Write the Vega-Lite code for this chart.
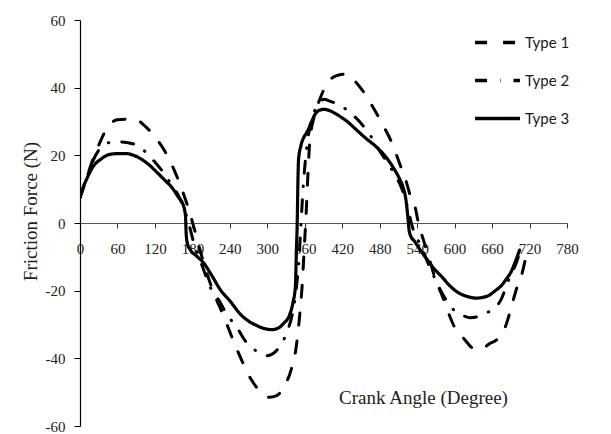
{
  "$schema": "https://vega.github.io/schema/vega-lite/v6.json",
  "width": 487,
  "height": 406,
  "autosize": {"type": "none"},
  "padding": {"left": 80, "top": 20, "right": 44, "bottom": 8},
  "background": "white",
  "config": {"view": {"stroke": null}},
  "datasets": {
    "t1": [
      [0,7.5],[10,13],[20,18.5],[30,23],[45,28.5],[60,30.5],[75,30.7],[90,30.5],[105,28.5],[120,25.5],[135,21.5],[150,16],[165,9],[175,3.5],[182,-1],[190,-6.5],[200,-13],[215,-21],[230,-27.5],[245,-34.5],[260,-41],[275,-46.5],[290,-50],[303,-51.5],[315,-51],[328,-48],[338,-43.5],[346,-37],[352,-27],[356,-18],[359,-8],[362,2],[365,14],[368,24],[376,32],[385,37],[395,41],[410,43.5],[425,44],[440,42],[455,38.5],[470,34],[485,29],[500,23.5],[512,17.5],[522,12.5],[530,7.5],[537,4.5],[542,0],[550,-5],[560,-11],[570,-17],[580,-21.4],[590,-26.5],[600,-30.8],[615,-34.2],[632,-37.2],[645,-37],[655,-35.8],[670,-34],[682,-30.3],[692,-24],[700,-19],[707,-15.6],[713,-11]
    ],
    "t2": [
      [0,7.5],[10,13],[18,17.2],[30,21.5],[45,23.7],[60,24],[75,23.8],[90,23],[105,21],[120,18],[130,15.8],[145,11.8],[155,9],[165,5],[174,0],[181,-5],[196,-12.8],[210,-19.5],[223,-23],[235,-27],[250,-30.5],[265,-34.9],[283,-37.9],[300,-39.2],[310,-38.5],[321,-36.2],[332,-32],[340,-27],[346,-20],[351,-10],[354,0],[358,12],[363,22],[370,30],[380,34.5],[391,36.6],[400,36],[415,35],[430,33],[449,29.7],[466,25.6],[479,21.6],[491,18.2],[505,14],[514,10.8],[522,6.5],[528,2],[533,-1.5],[540,-4.5],[550,-8.5],[560,-13],[570,-17],[582,-21.4],[597,-25.4],[610,-27],[625,-28],[640,-27.5],[652,-26.5],[662,-25.4],[675,-22.4],[685,-17.5],[697,-12.6],[705,-8.5]
    ],
    "t3": [
      [0,7.5],[5,10.5],[12,13.5],[21,16.7],[33,18.8],[46,20.2],[60,20.5],[74,20.5],[86,20],[97,19],[110,17.3],[122,15.2],[135,12.8],[148,10.3],[158,7.5],[165,5.5],[169,2],[170,-3],[172,-6],[177,-8],[187,-9.8],[198,-11.8],[211,-15.5],[225,-19.8],[240,-23],[257,-27],[270,-29],[283,-30.3],[295,-31.2],[308,-31.5],[318,-31],[327,-29.5],[335,-27.5],[341,-23.6],[345,-18.7],[346.5,-8.8],[348,1],[349,12],[350,18.7],[354,23],[359,25.5],[364,27],[370,29.5],[376,32],[383,33.3],[391,33.6],[400,33.2],[412,32],[428,30],[443,27.5],[458,25],[474,22.6],[490,19.5],[504,15.7],[512,13],[517,10.8],[522,6.9],[525,2],[527,-2],[530,-4],[535,-5.2],[545,-8],[555,-10.6],[567,-13.5],[580,-16],[592,-18.5],[605,-20.5],[620,-21.7],[635,-22.2],[645,-22],[655,-21.4],[665,-20],[675,-18.5],[683,-16.5],[690,-14.6],[696,-12],[700,-10.1],[704,-8]
    ]
  },
  "encoding": {
    "x": {
      "field": "angle", "type": "quantitative",
      "scale": {"domain": [0, 780], "nice": false, "zero": false},
      "axis": {
        "values": [0,60,120,180,240,300,360,420,480,540,600,660,720,780],
        "labelOverlap": false,
        "labelBound": false,
        "labelFlush": false,
        "offset": -203,
        "grid": false,
        "domainColor": "#555555",
        "domainWidth": 1.2,
        "tickColor": "#333333",
        "tickSize": 5,
        "labelPadding": 13,
        "labelFont": "Liberation Serif",
        "labelFontSize": 15,
        "labelColor": "#222222",
        "title": "Crank Angle (Degree)",
        "titleFont": "Liberation Serif",
        "titleFontSize": 19,
        "titleFontWeight": "normal",
        "titleColor": "#222222",
        "titleX": 343,
        "titleY": 174,
        "titleBaseline": "middle",
        "titleAlign": "center"
      }
    },
    "y": {
      "field": "force", "type": "quantitative",
      "scale": {"domain": [-60, 60], "nice": false, "zero": false},
      "axis": {
        "values": [-60,-40,-20,0,20,40,60],
        "labelExpr": "'' + datum.value",
        "labelOverlap": false,
        "grid": false,
        "domainColor": "#000000",
        "domainWidth": 1.2,
        "tickColor": "#000000",
        "tickSize": 6,
        "labelPadding": 9,
        "labelFont": "Liberation Serif",
        "labelFontSize": 15,
        "labelColor": "#222222",
        "title": "Friction Force (N)",
        "titleFont": "Liberation Serif",
        "titleFontSize": 19,
        "titleFontWeight": "normal",
        "titleColor": "#222222",
        "titleX": -50,
        "titleY": 191,
        "titleBaseline": "middle",
        "titleAlign": "center",
        "titleAngle": -90
      }
    },
    "strokeDash": {
      "field": "type", "type": "nominal",
      "scale": {"domain": ["Type 1", "Type 2", "Type 3"], "range": [[12, 16], [12, 13, 0.5, 13], [1, 0]]},
      "legend": {
        "title": null,
        "orient": "none",
        "legendX": 397,
        "legendY": 2,
        "padding": 0,
        "symbolType": "M-1.2,0H1.2",
        "symbolSize": 1400,
        "symbolStrokeWidth": 3.5,
        "symbolStrokeColor": "black",
        "labelFont": "Lato",
        "labelFontSize": 15,
        "labelColor": "#1a1a1a",
        "labelOffset": 7,
        "rowPadding": 9
      }
    }
  },
  "layer": [
    {
      "data": {"name": "t1"},
      "transform": [
        {"calculate": "datum[0]", "as": "angle"},
        {"calculate": "datum[1]", "as": "force"},
        {"calculate": "'Type 1'", "as": "type"}
      ],
      "mark": {"type": "line", "interpolate": "monotone", "strokeWidth": 3, "color": "black", "strokeCap": "round", "clip": true}
    },
    {
      "data": {"name": "t2"},
      "transform": [
        {"calculate": "datum[0]", "as": "angle"},
        {"calculate": "datum[1]", "as": "force"},
        {"calculate": "'Type 2'", "as": "type"}
      ],
      "mark": {"type": "line", "interpolate": "monotone", "strokeWidth": 3, "color": "black", "strokeCap": "round", "clip": true}
    },
    {
      "data": {"name": "t3"},
      "transform": [
        {"calculate": "datum[0]", "as": "angle"},
        {"calculate": "datum[1]", "as": "force"},
        {"calculate": "'Type 3'", "as": "type"}
      ],
      "mark": {"type": "line", "interpolate": "monotone", "strokeWidth": 3.2, "color": "black", "strokeCap": "round", "clip": true}
    }
  ]
}
